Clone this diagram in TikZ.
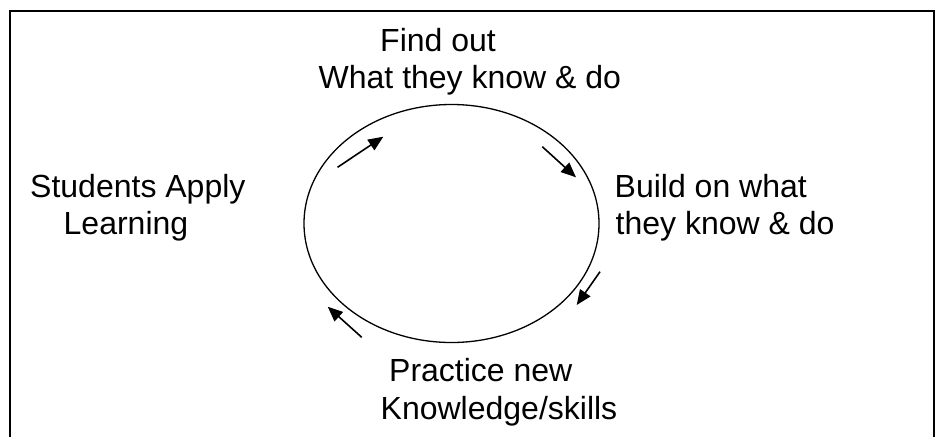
\documentclass[tikz,border=0pt]{standalone}
\usepackage{fontspec}
\setmainfont{Liberation Sans}
\usetikzlibrary{shapes.geometric,arrows.meta}
\begin{document}
\begin{tikzpicture}[x=1pt,y=-1pt,
  lbl/.style={anchor=base west,inner sep=0pt,font=\fontsize{32}{38}\selectfont},
  cyc/.style={draw,ellipse,line width=1.3pt,minimum width=295pt,minimum height=238pt,inner sep=0pt},
  flow/.style={line width=1.6pt,-{Triangle[length=15pt,width=12.5pt]}},
  frame/.style={line width=2pt}]
\useasboundingbox (0,0) rectangle (944,437);
% frame (open at the bottom)
\coordinate (fbl) at (10,437);
\coordinate (ftl) at (10,11);
\coordinate (ftr) at (934,11);
\coordinate (fbr) at (934,437);
\draw[frame] (fbl) -- (ftl) -- (ftr) -- (fbr);
% cycle
\node[cyc] (cycle) at (451.5,223.5) {};
% labels
\node[lbl] (find1) at (380,51) {Find out};
\node[lbl] (find2) at (318.5,88.3) {What they know \& do};
\node[lbl] (stud1) at (30,197.3) {Students Apply};
\node[lbl] (stud2) at (63.5,234) {Learning};
\node[lbl] (build1) at (614.5,197.3) {Build on what};
\node[lbl] (build2) at (615.5,234) {they know \& do};
\node[lbl] (prac1) at (389,381.7) {Practice new};
\node[lbl] (prac2) at (380.5,419) {Knowledge/skills};
% arrows
\coordinate (a1s) at (337.5,167.3);
\coordinate (a1e) at (383.3,136.7);
\coordinate (a2s) at (542.3,146.7);
\coordinate (a2e) at (576,177.3);
\coordinate (a3s) at (600,271.7);
\coordinate (a3e) at (576.7,305);
\coordinate (a4s) at (361.7,337.3);
\coordinate (a4e) at (327.7,306.7);
\draw[flow] (a1s) -- (a1e);
\draw[flow] (a2s) -- (a2e);
\draw[flow] (a3s) -- (a3e);
\draw[flow] (a4s) -- (a4e);
\end{tikzpicture}
\end{document}
